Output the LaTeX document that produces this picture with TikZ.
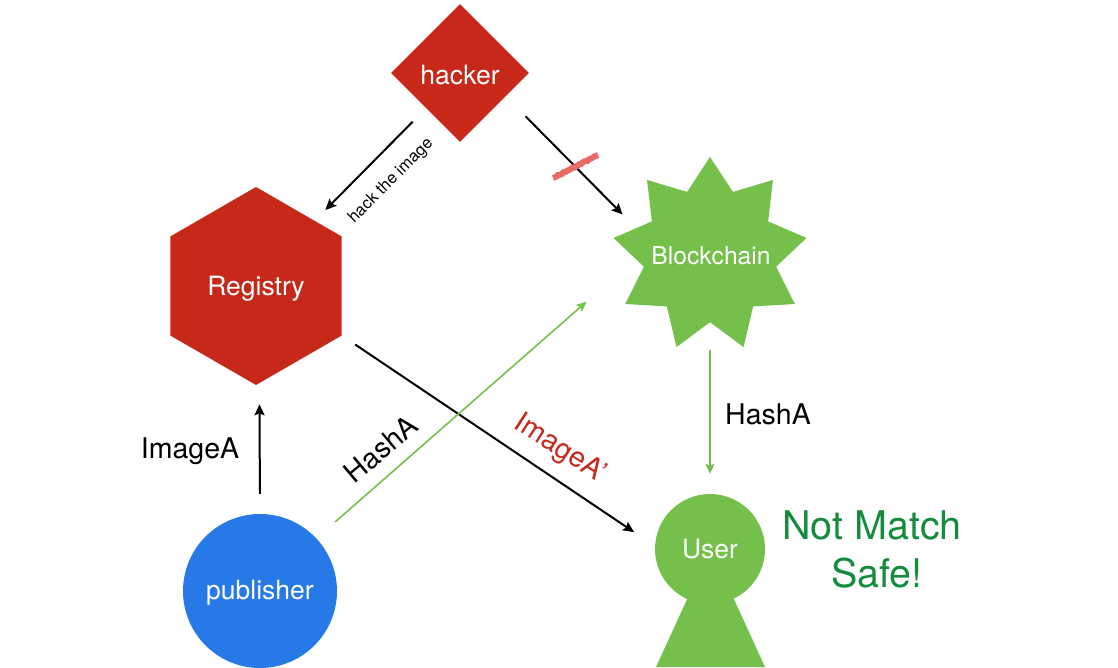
\documentclass[tikz,border=0pt]{standalone}
\usepackage{fontspec}
\setmainfont{TeX Gyre Heros}
\usetikzlibrary{
	arrows.meta,
	shapes.geometric,
	decorations.pathmorphing}
\definecolor{hackred}{HTML}{C6281A}
\definecolor{safegreen}{HTML}{75BF4B}
\definecolor{pubblue}{HTML}{2879E8}
\definecolor{matchgreen}{HTML}{148C3C}
\definecolor{scribred}{HTML}{EA6A66}
\tikzset{
	hex/.style={
		regular polygon,
		regular polygon sides=6,
		shape border rotate=30,
		fill=hackred,
		text=white,
		inner sep=0pt,
		minimum size=198pt
	},
	dia/.style={
		diamond,
		aspect=1,
		fill=hackred,
		text=white,
		inner sep=0pt,
		minimum size=138pt
	},
	burst/.style={
		star,
		star points=9,
		star point ratio=1.46,
		fill=safegreen,
		inner sep=0pt,
		minimum size=196pt
	},
	disc/.style={
		circle,
		text=white,
		inner sep=0pt
	},
	flow/.style={
		-{Stealth[length=11pt,width=10pt,inset=2pt]},
		line width=2pt,
		black
	},
	hashflow/.style={
		-{Stealth[length=10pt,width=9pt,inset=2pt]},
		line width=1.6pt,
		safegreen
	},
	tag/.style={
		font=\fontsize{28.5}{32}\selectfont,
		inner sep=0pt
	},
	inner tag/.style={
		font=\fontsize{26.5}{30}\selectfont,
		text depth=0pt
	},
}
\begin{document}
\begin{tikzpicture}[x=1pt, y=-1pt]
	\useasboundingbox (0,0) rectangle (1118,668);
	\node[dia, inner tag, text height=23pt]  (hacker)    at (460,73)  {hacker};
	\node[hex, inner tag, text height=19.5pt]  (registry)  at (256,286) {Registry};
	\node[burst, label={[text=white, font=\fontsize{24.6}{30}\selectfont, xshift=1pt, yshift=-1pt]center:Blockchain}] (blockchain) at (710,255) {};
	\node[disc, inner tag, text height=17.5pt, fill=pubblue, minimum size=154pt] (publisher) at (260,591) {publisher};
	\fill[safegreen] (689,595) -- (732,595) -- (765,667) -- (656,667) -- cycle;
	\node[disc, inner tag, text height=19pt, fill=safegreen, minimum size=110pt] (user) at (710,549) {User};
%
	\node[tag, font=\fontsize{16.5}{18}\selectfont, rotate=45] (hacktag) at (391,181) {hack the image};
	\node[tag] (imagetag) at (190,451) {ImageA};
	\node[tag, rotate=40] (hashtag) at (381,449) {HashA};
	\node[tag, rotate=-33, text=hackred] (primetag) at (560,449) {ImageA’};
	\node[tag] (bchashtag) at (768,414) {HashA};
	\node[tag, font=\fontsize{39.5}{48}\selectfont, text=matchgreen, align=center] (result) at (872,549) {Not Match\\\hspace*{10pt}Safe!};
%
	\draw[flow, shorten <=19pt, shorten >=15pt] (hacker.226.7) -- (registry.48.2);
	\draw[flow, shorten <=28pt, shorten >=19pt] (hacker.-27.3) -- (blockchain.160);
	\draw[flow, shorten <=20pt, shorten >=21pt] (publisher.north) -- (registry.-88);
	\draw[flow, shorten <=16pt, shorten >=25pt] (registry.-30) -- (user.177);
	\draw[hashflow, shorten <=25pt, shorten >=65pt] (publisher.43) -- (blockchain.183);
	\draw[hashflow, shorten <=28pt, shorten >=20pt] (blockchain.south) -- (user.north);
%
	\coordinate (scribA) at (553,178);
	\coordinate (scribB) at (598,155);
	\draw[scribred, line width=6pt, decorate, decoration={random steps, segment length=2pt, amplitude=.5pt}] (scribA) -- (scribB);
\end{tikzpicture}
\end{document}
